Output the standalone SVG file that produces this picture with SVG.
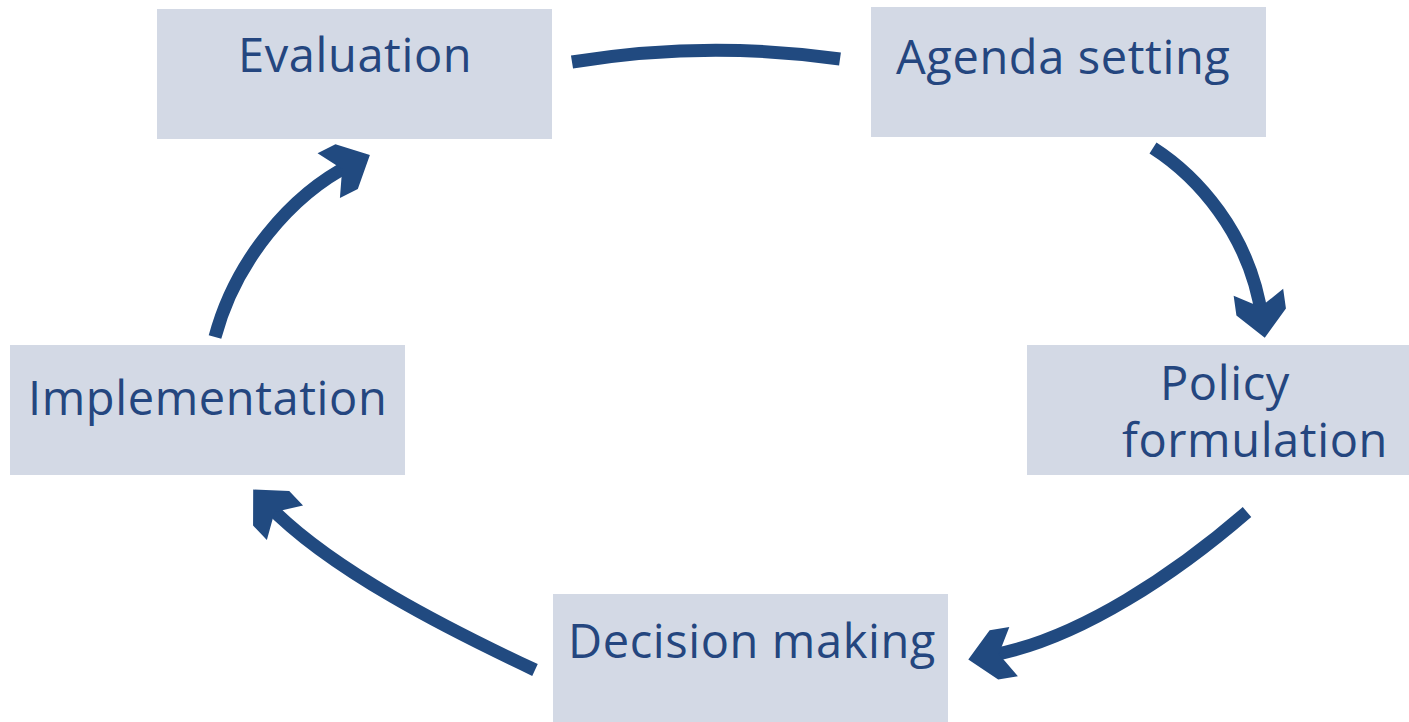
<svg xmlns="http://www.w3.org/2000/svg" width="1409" height="722" viewBox="0 0 1409 722">
<style>
.box{fill:#d3d9e5}
.lbl{font-family:"Open Sans","Noto Sans","Liberation Sans",sans-serif;font-size:47px;letter-spacing:0.6px;fill:#24467f}
.arc{fill:none;stroke:#214a80;stroke-width:13}
</style>
<defs>
<marker id="head" markerUnits="userSpaceOnUse" viewBox="-47 -26 48 52" markerWidth="48" markerHeight="52" refX="-20" refY="0" orient="auto">
<path d="M0,0 L-26,-25 L-46,-25 L-31,0 L-46,25 L-26,25 Z" fill="#214a80"/>
</marker>
</defs>
<rect width="1409" height="722" fill="#ffffff"/>
<g id="evaluation"><rect class="box" x="157" y="9" width="395" height="130"/><text class="lbl" x="238" y="72">Evaluation</text></g>
<g id="agenda"><rect class="box" x="871" y="7" width="395" height="130"/><text class="lbl" x="896" y="74">Agenda setting</text></g>
<g id="policy"><rect class="box" x="1027" y="345" width="382" height="130"/><text class="lbl" x="1160" y="400">Policy</text><text class="lbl" x="1122" y="457">formulation</text></g>
<g id="decision"><rect class="box" x="553" y="594" width="395" height="128"/><text class="lbl" x="568" y="658">Decision making</text></g>
<g id="implementation"><rect class="box" x="10" y="345" width="395" height="130"/><text class="lbl" x="28" y="415">Implementation</text></g>
<g id="connectors">
<path class="arc" d="M572,62 Q706,40 840,59"/>
<path class="arc" d="M1153,148 C1195,175 1250,232 1262,318" marker-end="url(#head)"/>
<path class="arc" d="M1247,512 C1180,570 1080,640 988,656" marker-end="url(#head)"/>
<path class="arc" d="M535,670 C450,630 330,570 267,504" marker-end="url(#head)"/>
<path class="arc" d="M215,337 C235,262 290,195 352,164" marker-end="url(#head)"/>
</g>
</svg>
